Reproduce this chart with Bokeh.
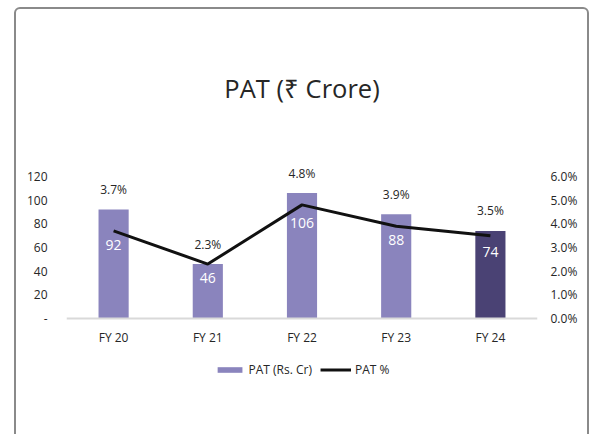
from bokeh.plotting import figure
from bokeh.models import (ColumnDataSource, LinearAxis, Range1d, FixedTicker,
                          NumeralTickFormatter, Legend, LegendItem, InlineStyleSheet)
from bokeh.core.properties import value
from bokeh.embed import file_html
from bokeh.resources import INLINE

# ---- data ----
years = ["FY 20", "FY 21", "FY 22", "FY 23", "FY 24"]
pat = [92, 46, 106, 88, 74]
pat_pct = [3.7, 2.3, 4.8, 3.9, 3.5]
left_ticks = [0, 20, 40, 60, 80, 100, 120]
right_ticks = [0.0, 1.0, 2.0, 3.0, 4.0, 5.0, 6.0]

FONT = "Open Sans"
TXT = "#262626"
LIGHT = "#8A84BD"
DARK = "#4A4274"

# ---- derived columns ----
colors = [LIGHT] * (len(years) - 1) + [DARK]
scale = left_ticks[-1] / right_ticks[-1]          # left-axis units per 1 %
line_left = [v * scale for v in pat_pct]           # line in left-axis units
src = ColumnDataSource(dict(
    x=years,
    pat=pat,
    pct=[v / 100 for v in pat_pct],
    color=colors,
    pat_lbl=[str(v) for v in pat],
    pct_lbl=[f"{v:.1f}%" for v in pat_pct],
    top_y=[max(a, b) for a, b in zip(pat, line_left)],
    in_y=[min(0.76 * a, b - 12) for a, b in zip(pat, line_left)],
))

# ---- layout ----
FRAME_H = 274
ZERO_PX = 158                      # px from frame top to the zero line
y_end = 133.5
unit_px = ZERO_PX / y_end
y_start = y_end - FRAME_H / unit_px

p = figure(x_range=years, y_range=Range1d(y_start, y_end), frame_width=471, frame_height=FRAME_H,
           output_backend="svg", toolbar_location=None,
           min_border_left=66, min_border_right=54, min_border_top=160, min_border_bottom=0)
p.extra_y_ranges = {"pct": Range1d(y_start / scale / 100, y_end / scale / 100)}

p.title.text = "PAT (₹ Crore)"
p.title.align = "center"
p.title.text_font = FONT
p.title.text_font_size = "25.5px"
p.title.text_font_style = "normal"
p.title.text_color = TXT
p.title.standoff = 112

bars = p.vbar(x="x", top="pat", width=0.32, fill_color="color", line_color=None, source=src)
line = p.line(x="x", y="pct", y_range_name="pct", line_width=3, line_color="#111111", source=src)

p.text(x="x", y="top_y", text="pct_lbl", text_align="center", text_baseline="middle",
       y_offset=-20, text_font=value(FONT), text_font_size="12px", text_color=TXT, source=src)
p.text(x="x", y="in_y", text="pat_lbl", text_align="center", text_baseline="middle",
       text_font=value(FONT), text_font_size="14px", text_color="white", source=src)

# ---- axes ----
p.xgrid.visible = False
p.ygrid.visible = False
p.outline_line_color = None

p.xaxis.fixed_location = 0
p.xaxis.axis_line_color = "#D9D9D9"
p.xaxis.axis_line_width = 2
p.xaxis.major_tick_line_color = None
p.xaxis.minor_tick_line_color = None
p.xaxis.major_label_standoff = 4
p.xaxis.major_label_text_font = FONT
p.xaxis.major_label_text_font_size = "12px"
p.xaxis.major_label_text_color = TXT

p.yaxis.ticker = FixedTicker(ticks=left_ticks)
p.yaxis.major_label_overrides = {0: "-"}
ax_r = LinearAxis(y_range_name="pct", ticker=FixedTicker(ticks=[t / 100 for t in right_ticks]),
                  formatter=NumeralTickFormatter(format="0.0%"))
p.add_layout(ax_r, "right")
for ax in (p.yaxis[0], ax_r):
    ax.axis_line_color = None
    ax.major_tick_line_color = None
    ax.minor_tick_line_color = None
    ax.major_label_text_font = FONT
    ax.major_label_text_font_size = "12px"
    ax.major_label_text_color = TXT
p.yaxis[0].major_label_standoff = 13
ax_r.major_label_standoff = 7

legend = Legend(items=[LegendItem(label="PAT (Rs. Cr)", renderers=[bars], index=0),
                       LegendItem(label="PAT %", renderers=[line])],
                orientation="horizontal", location="bottom_center",
                glyph_width=31, glyph_height=7, label_standoff=4, spacing=8,
                label_text_font=FONT, label_text_font_size="12px", label_text_color=TXT,
                border_line_color=None, background_fill_alpha=0, padding=4, margin=56)
p.add_layout(legend)

# card frame around the chart
p.stylesheets = [InlineStyleSheet(css="""
:host::after {
  content: ""; position: absolute; left: 14px; top: 7px; width: 575px; height: 440px;
  border: 2px solid #8a8a8a; border-radius: 6px; pointer-events: none; box-sizing: border-box;
}
""")]

open("out.html", "w").write(file_html(p, INLINE))
